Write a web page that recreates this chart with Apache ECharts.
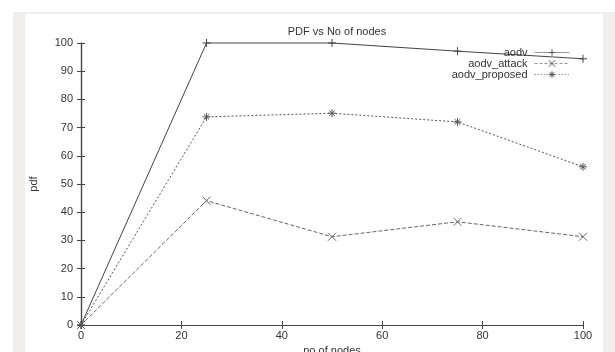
<!DOCTYPE html>
<html>
<head>
<meta charset="utf-8">
<script src="https://cdn.jsdelivr.net/npm/echarts@6/dist/echarts.min.js"></script>
<style>
  html, body { margin: 0; padding: 0; background: #ffffff; }
  #chart { width: 615px; height: 352px; }
</style>
</head>
<body>
<div id="chart"></div>
<script>
// Number of nodes on the x axis
const nodes = [0, 25, 50, 75, 100];
// Packet delivery fraction (%) per protocol variant
const aodv = [0, 100, 100, 97.1, 94.4];
const aodvAttack = [0, 44.1, 31.3, 36.6, 31.3];
const aodvProposed = [0, 73.8, 75.1, 72.0, 56.1];

const xTicks = [0, 20, 40, 60, 80, 100];
const yTicks = [0, 10, 20, 30, 40, 50, 60, 70, 80, 90, 100];

const FONT = 'Liberation Sans, Arial, sans-serif';
const INK = '#333333';
const FS = 11;

// stroke-only marker shapes
const PLUS = 'path://M0,5L10,5M5,0L5,10';
const CROSS = 'path://M0,0L10,10M10,0L0,10';
const STAR = 'path://M0,5L10,5M5,0L5,10M1.5,1.5L8.5,8.5M8.5,1.5L1.5,8.5';

function pairs(values) {
  return nodes.map((n, i) => [n, values[i]]);
}

function lineSeries(name, values, symbol, color, dash) {
  return {
    name: name,
    type: 'line',
    data: pairs(values),
    symbol: symbol,
    symbolSize: 8,
    showSymbol: true,
    animation: false,
    clip: false,
    lineStyle: { color: color, width: 1, type: dash },
    itemStyle: { color: 'rgba(0,0,0,0)', borderColor: color, borderWidth: 1 },
    emphasis: { disabled: true }
  };
}

function legendItem(name, color, dash) {
  return {
    name: name,
    itemStyle: { color: 'rgba(0,0,0,0)', borderColor: color, borderWidth: 1 },
    lineStyle: { color: '#999999', width: 1, type: dash }
  };
}

const chart = echarts.init(document.getElementById('chart'), null, { renderer: 'canvas' });

chart.setOption({
  backgroundColor: '#ffffff',
  animation: false,
  graphic: [
    { type: 'rect', z: -10, silent: true, shape: { x: 13, y: 12, width: 602, height: 340 }, style: { fill: '#efeeec' } },
    { type: 'rect', z: -9, silent: true, shape: { x: 25, y: 14, width: 578, height: 338 }, style: { fill: '#ffffff' } }
  ],
  title: {
    text: 'PDF vs No of nodes',
    left: 332,
    top: 21,
    textAlign: 'center',
    textStyle: { fontFamily: FONT, fontSize: FS, fontWeight: 'normal', color: INK }
  },
  legend: {
    orient: 'vertical',
    right: 45,
    top: 47,
    align: 'right',
    itemWidth: 35,
    itemHeight: 8,
    itemGap: 0,
    padding: 0,
    itemStyle: { color: 'rgba(0,0,0,0)', borderWidth: 1 },
    lineStyle: { width: 1 },
    textStyle: { fontFamily: FONT, fontSize: FS, lineHeight: 10, color: INK, padding: [0, 2, 0, 0] },
    data: [
      legendItem('aodv', '#555555', 'solid'),
      legendItem('aodv_attack', '#555555', [3, 2]),
      legendItem('aodv_proposed', '#555555', [1.5, 1.5])
    ]
  },
  grid: { left: 81, right: 32, top: 43, bottom: 27, containLabel: false, outerBoundsMode: 'none' },
  xAxis: [
    {
      type: 'value', min: xTicks[0], max: xTicks[xTicks.length - 1], interval: 20,
      name: 'no of nodes', nameLocation: 'middle', nameGap: 19,
      nameTextStyle: { fontFamily: FONT, fontSize: FS, color: INK },
      axisLine: { show: true, lineStyle: { color: '#444', width: 1.2 } },
      axisTick: { show: true, inside: true, length: 4, lineStyle: { color: '#444' } },
      axisLabel: { fontFamily: FONT, fontSize: FS, color: INK, margin: 5 },
      splitLine: { show: false }
    },
    {
      type: 'value', position: 'top', min: xTicks[0], max: xTicks[xTicks.length - 1], interval: 20,
      axisLine: { show: true, lineStyle: { color: '#444', width: 1.2 } },
      axisTick: { show: true, inside: true, length: 4, lineStyle: { color: '#444' } },
      axisLabel: { show: false },
      splitLine: { show: false }
    }
  ],
  yAxis: [
    {
      type: 'value', min: yTicks[0], max: yTicks[yTicks.length - 1], interval: 10,
      name: 'pdf', nameLocation: 'middle', nameGap: 42, nameRotate: 90,
      nameTextStyle: { fontFamily: FONT, fontSize: FS, color: INK },
      axisLine: { show: true, lineStyle: { color: '#444', width: 1.2 } },
      axisTick: { show: true, inside: true, length: 4, lineStyle: { color: '#444' } },
      axisLabel: { fontFamily: FONT, fontSize: FS, color: INK, margin: 8 },
      splitLine: { show: false }
    },
    {
      type: 'value', position: 'right', min: yTicks[0], max: yTicks[yTicks.length - 1], interval: 10,
      axisLine: { show: true, lineStyle: { color: '#444', width: 1.2 } },
      axisTick: { show: true, inside: true, length: 4, lineStyle: { color: '#444' } },
      axisLabel: { show: false },
      splitLine: { show: false }
    }
  ],
  series: [
    lineSeries('aodv', aodv, PLUS, '#444444', 'solid'),
    lineSeries('aodv_attack', aodvAttack, CROSS, '#666666', [4, 2]),
    lineSeries('aodv_proposed', aodvProposed, STAR, '#555555', [2, 2])
  ]
});
</script>
</body>
</html>
